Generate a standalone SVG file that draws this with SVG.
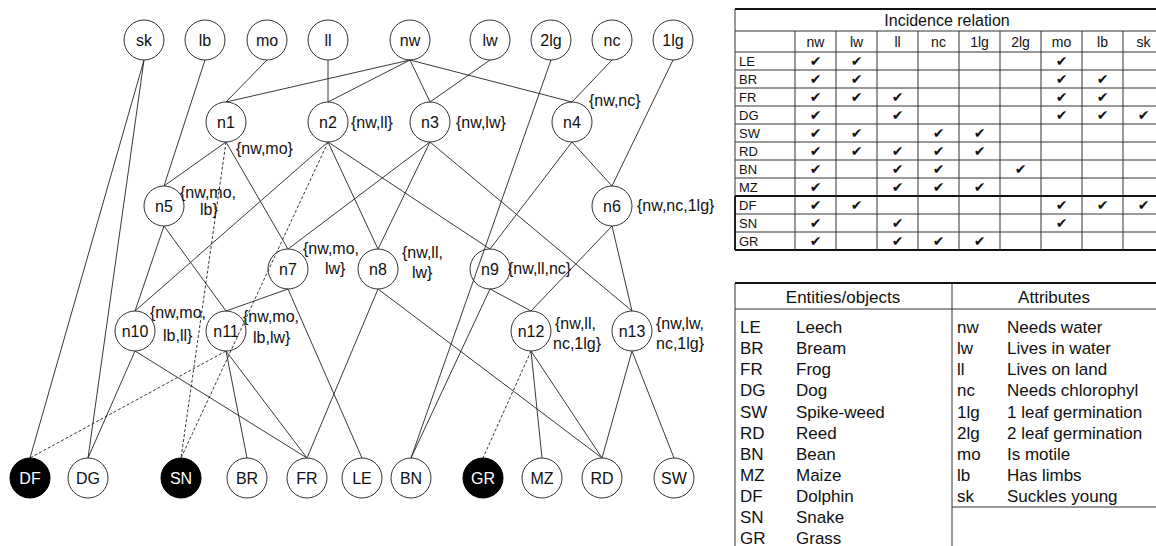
<svg xmlns="http://www.w3.org/2000/svg" width="1156" height="546" viewBox="0 0 1156 546">
  <style>
    text { font-family: "Liberation Sans", Arial, sans-serif; fill: #111; }
    .node circle { fill: none; stroke: #333; stroke-width: 1; }
    .node.obj circle.dark { fill: #000; stroke: #000; }
    .node text.nm { font-size: 16px; text-anchor: middle; }
    .node text.inv { fill: #fff; }
    .node text.lbl { font-size: 16px; }
    #edges line { stroke: #222; stroke-width: 0.9; }
    #edges line.dash { stroke-dasharray: 3 2; }
    .grid line { stroke: #333; stroke-width: 1; }
    .grid line.heavy { stroke: #111; stroke-width: 1.8; }
    .tt { font-size: 16px; text-anchor: middle; }
    .th { font-size: 14px; text-anchor: middle; }
    .rl { font-size: 13px; }
    .ck { font-family: "DejaVu Sans", sans-serif; font-size: 14px; text-anchor: middle; }
    .et { font-size: 17px; }
    .eh { font-size: 17px; text-anchor: middle; }
  </style>

  <!-- connectors: parent bottom to child top -->
  <g id="edges">
    <line x1="144" y1="60" x2="30" y2="458"/>
    <line x1="144" y1="60" x2="88" y2="458"/>
    <line x1="205" y1="60" x2="164" y2="186"/>
    <line x1="267" y1="60" x2="226" y2="102"/>
    <line x1="328" y1="60" x2="328" y2="102"/>
    <line x1="410" y1="60" x2="226" y2="102"/>
    <line x1="410" y1="60" x2="328" y2="102"/>
    <line x1="410" y1="60" x2="430" y2="102"/>
    <line x1="410" y1="60" x2="572" y2="102"/>
    <line x1="490" y1="60" x2="430" y2="102"/>
    <line x1="551" y1="60" x2="411" y2="458"/>
    <line x1="612" y1="60" x2="572" y2="102"/>
    <line x1="673" y1="60" x2="612" y2="186"/>
    <line x1="226" y1="142" x2="164" y2="186"/>
    <line x1="226" y1="142" x2="288" y2="249"/>
    <line class="dash" x1="226" y1="142" x2="181" y2="458"/>
    <line x1="328" y1="142" x2="135" y2="311"/>
    <line x1="328" y1="142" x2="378" y2="249"/>
    <line x1="328" y1="142" x2="490" y2="249"/>
    <line class="dash" x1="328" y1="142" x2="181" y2="458"/>
    <line x1="430" y1="142" x2="288" y2="249"/>
    <line x1="430" y1="142" x2="378" y2="249"/>
    <line x1="430" y1="142" x2="632" y2="311"/>
    <line x1="572" y1="142" x2="490" y2="249"/>
    <line x1="572" y1="142" x2="612" y2="186"/>
    <line x1="164" y1="226" x2="135" y2="311"/>
    <line x1="164" y1="226" x2="226" y2="311"/>
    <line x1="612" y1="226" x2="531" y2="311"/>
    <line x1="612" y1="226" x2="632" y2="311"/>
    <line x1="288" y1="289" x2="226" y2="311"/>
    <line x1="288" y1="289" x2="362" y2="458"/>
    <line x1="378" y1="289" x2="307" y2="458"/>
    <line x1="378" y1="289" x2="602" y2="458"/>
    <line x1="490" y1="289" x2="411" y2="458"/>
    <line x1="490" y1="289" x2="531" y2="311"/>
    <line x1="135" y1="351" x2="88" y2="458"/>
    <line x1="135" y1="351" x2="307" y2="458"/>
    <line class="dash" x1="226" y1="351" x2="30" y2="458"/>
    <line x1="226" y1="351" x2="247" y2="458"/>
    <line x1="226" y1="351" x2="307" y2="458"/>
    <line class="dash" x1="531" y1="351" x2="483" y2="458"/>
    <line x1="531" y1="351" x2="542" y2="458"/>
    <line x1="531" y1="351" x2="602" y2="458"/>
    <line x1="632" y1="351" x2="602" y2="458"/>
    <line x1="632" y1="351" x2="674" y2="458"/>
  </g>

  <!-- attribute nodes -->
  <g id="sk" class="node"><circle cx="144" cy="40" r="20"/><text class="nm" x="144" y="45.5">sk</text></g>
  <g id="lb" class="node"><circle cx="205" cy="40" r="20"/><text class="nm" x="205" y="45.5">lb</text></g>
  <g id="mo" class="node"><circle cx="267" cy="40" r="20"/><text class="nm" x="267" y="45.5">mo</text></g>
  <g id="ll" class="node"><circle cx="328" cy="40" r="20"/><text class="nm" x="328" y="45.5">ll</text></g>
  <g id="nw" class="node"><circle cx="410" cy="40" r="20"/><text class="nm" x="410" y="45.5">nw</text></g>
  <g id="lw" class="node"><circle cx="490" cy="40" r="20"/><text class="nm" x="490" y="45.5">lw</text></g>
  <g id="a2lg" class="node"><circle cx="551" cy="40" r="20"/><text class="nm" x="551" y="45.5">2lg</text></g>
  <g id="nc" class="node"><circle cx="612" cy="40" r="20"/><text class="nm" x="612" y="45.5">nc</text></g>
  <g id="a1lg" class="node"><circle cx="673" cy="40" r="20"/><text class="nm" x="673" y="45.5">1lg</text></g>

  <!-- concept nodes with intents -->
  <g id="n1" class="node"><circle cx="226" cy="122" r="20"/><text class="nm" x="226" y="127.5">n1</text><text class="lbl" x="236" y="154">{nw,mo}</text></g>
  <g id="n2" class="node"><circle cx="328" cy="122" r="20"/><text class="nm" x="328" y="127.5">n2</text><text class="lbl" x="351" y="128">{nw,ll}</text></g>
  <g id="n3" class="node"><circle cx="430" cy="122" r="20"/><text class="nm" x="430" y="127.5">n3</text><text class="lbl" x="456" y="128">{nw,lw}</text></g>
  <g id="n4" class="node"><circle cx="572" cy="122" r="20"/><text class="nm" x="572" y="127.5">n4</text><text class="lbl" x="589" y="106">{nw,nc}</text></g>
  <g id="n5" class="node"><circle cx="164" cy="206" r="20"/><text class="nm" x="164" y="211.5">n5</text><text class="lbl" x="180" y="198">{nw,mo,</text><text class="lbl" x="200" y="215">lb}</text></g>
  <g id="n6" class="node"><circle cx="612" cy="206" r="20"/><text class="nm" x="612" y="211.5">n6</text><text class="lbl" x="637" y="211">{nw,nc,1lg}</text></g>
  <g id="n7" class="node"><circle cx="288" cy="269" r="20"/><text class="nm" x="288" y="274.5">n7</text><text class="lbl" x="303" y="254">{nw,mo,</text><text class="lbl" x="325" y="274">lw}</text></g>
  <g id="n8" class="node"><circle cx="378" cy="269" r="20"/><text class="nm" x="378" y="274.5">n8</text><text class="lbl" x="402" y="258">{nw,ll,</text><text class="lbl" x="412" y="278">lw}</text></g>
  <g id="n9" class="node"><circle cx="490" cy="269" r="20"/><text class="nm" x="490" y="274.5">n9</text><text class="lbl" x="508" y="274">{nw,ll,nc}</text></g>
  <g id="n10" class="node"><circle cx="135" cy="331" r="20"/><text class="nm" x="135" y="336.5">n10</text><text class="lbl" x="150" y="318">{nw,mo,</text><text class="lbl" x="163" y="341">lb,ll}</text></g>
  <g id="n11" class="node"><circle cx="226" cy="331" r="20"/><text class="nm" x="226" y="336.5">n11</text><text class="lbl" x="243" y="322">{nw,mo,</text><text class="lbl" x="253" y="343">lb,lw}</text></g>
  <g id="n12" class="node"><circle cx="531" cy="331" r="20"/><text class="nm" x="531" y="336.5">n12</text><text class="lbl" x="555" y="329">{nw,ll,</text><text class="lbl" x="553" y="349">nc,1lg}</text></g>
  <g id="n13" class="node"><circle cx="632" cy="331" r="20"/><text class="nm" x="632" y="336.5">n13</text><text class="lbl" x="656" y="329">{nw,lw,</text><text class="lbl" x="656" y="349">nc,1lg}</text></g>

  <!-- object nodes -->
  <g id="DF" class="node obj"><circle class="dark" cx="30" cy="478" r="20"/><text class="nm inv" x="30" y="483.5">DF</text></g>
  <g id="DG" class="node obj"><circle cx="88" cy="478" r="20"/><text class="nm" x="88" y="483.5">DG</text></g>
  <g id="SN" class="node obj"><circle class="dark" cx="181" cy="478" r="20"/><text class="nm inv" x="181" y="483.5">SN</text></g>
  <g id="BR" class="node obj"><circle cx="247" cy="478" r="20"/><text class="nm" x="247" y="483.5">BR</text></g>
  <g id="FR" class="node obj"><circle cx="307" cy="478" r="20"/><text class="nm" x="307" y="483.5">FR</text></g>
  <g id="LE" class="node obj"><circle cx="362" cy="478" r="20"/><text class="nm" x="362" y="483.5">LE</text></g>
  <g id="BN" class="node obj"><circle cx="411" cy="478" r="20"/><text class="nm" x="411" y="483.5">BN</text></g>
  <g id="GR" class="node obj"><circle class="dark" cx="483" cy="478" r="20"/><text class="nm inv" x="483" y="483.5">GR</text></g>
  <g id="MZ" class="node obj"><circle cx="542" cy="478" r="20"/><text class="nm" x="542" y="483.5">MZ</text></g>
  <g id="RD" class="node obj"><circle cx="602" cy="478" r="20"/><text class="nm" x="602" y="483.5">RD</text></g>
  <g id="SW" class="node obj"><circle cx="674" cy="478" r="20"/><text class="nm" x="674" y="483.5">SW</text></g>

  <!-- incidence relation table -->
  <g id="incidence">
    <g class="grid">
      <line class="heavy" x1="735" y1="9" x2="1156" y2="9"/>
      <line x1="735" y1="31" x2="1156" y2="31"/>
      <line x1="735" y1="52" x2="1156" y2="52"/>
      <line x1="735" y1="70" x2="1156" y2="70"/>
      <line x1="735" y1="88" x2="1156" y2="88"/>
      <line x1="735" y1="106" x2="1156" y2="106"/>
      <line x1="735" y1="124" x2="1156" y2="124"/>
      <line x1="735" y1="142" x2="1156" y2="142"/>
      <line x1="735" y1="160" x2="1156" y2="160"/>
      <line x1="735" y1="178" x2="1156" y2="178"/>
      <line class="heavy" x1="735" y1="196" x2="1156" y2="196"/>
      <line x1="735" y1="214" x2="1156" y2="214"/>
      <line x1="735" y1="232" x2="1156" y2="232"/>
      <line class="heavy" x1="735" y1="250" x2="1156" y2="250"/>
      <line x1="735" y1="9" x2="735" y2="250"/>
      <line class="heavy" x1="735" y1="196" x2="735" y2="250"/>
      <line x1="795" y1="31" x2="795" y2="250"/>
      <line x1="836" y1="31" x2="836" y2="250"/>
      <line x1="877" y1="31" x2="877" y2="250"/>
      <line x1="918" y1="31" x2="918" y2="250"/>
      <line x1="959" y1="31" x2="959" y2="250"/>
      <line x1="1000" y1="31" x2="1000" y2="250"/>
      <line x1="1041" y1="31" x2="1041" y2="250"/>
      <line x1="1082" y1="31" x2="1082" y2="250"/>
      <line x1="1123" y1="31" x2="1123" y2="250"/>
    </g>
    <text class="tt" x="947" y="26">Incidence relation</text>
    <g class="th-row">
      <text class="th" x="815.5" y="47">nw</text>
      <text class="th" x="856.5" y="47">lw</text>
      <text class="th" x="897.5" y="47">ll</text>
      <text class="th" x="938.5" y="47">nc</text>
      <text class="th" x="979.5" y="47">1lg</text>
      <text class="th" x="1020.5" y="47">2lg</text>
      <text class="th" x="1061.5" y="47">mo</text>
      <text class="th" x="1102.5" y="47">lb</text>
      <text class="th" x="1143.5" y="47">sk</text>
    </g>
    <g class="rows">
      <text class="rl" x="739" y="65.5">LE</text>
      <text class="rl" x="739" y="83.5">BR</text>
      <text class="rl" x="739" y="101.5">FR</text>
      <text class="rl" x="739" y="119.5">DG</text>
      <text class="rl" x="739" y="137.5">SW</text>
      <text class="rl" x="739" y="155.5">RD</text>
      <text class="rl" x="739" y="173.5">BN</text>
      <text class="rl" x="739" y="191.5">MZ</text>
      <text class="rl" x="739" y="209.5">DF</text>
      <text class="rl" x="739" y="227.5">SN</text>
      <text class="rl" x="739" y="245.5">GR</text>
    </g>
    <g class="checks">
      <!-- LE: nw lw mo -->
      <text class="ck" x="815.5" y="66">✔</text><text class="ck" x="856.5" y="66">✔</text><text class="ck" x="1061.5" y="66">✔</text>
      <!-- BR: nw lw mo lb -->
      <text class="ck" x="815.5" y="84">✔</text><text class="ck" x="856.5" y="84">✔</text><text class="ck" x="1061.5" y="84">✔</text><text class="ck" x="1102.5" y="84">✔</text>
      <!-- FR: nw lw ll mo lb -->
      <text class="ck" x="815.5" y="102">✔</text><text class="ck" x="856.5" y="102">✔</text><text class="ck" x="897.5" y="102">✔</text><text class="ck" x="1061.5" y="102">✔</text><text class="ck" x="1102.5" y="102">✔</text>
      <!-- DG: nw ll mo lb sk -->
      <text class="ck" x="815.5" y="120">✔</text><text class="ck" x="897.5" y="120">✔</text><text class="ck" x="1061.5" y="120">✔</text><text class="ck" x="1102.5" y="120">✔</text><text class="ck" x="1143.5" y="120">✔</text>
      <!-- SW: nw lw nc 1lg -->
      <text class="ck" x="815.5" y="138">✔</text><text class="ck" x="856.5" y="138">✔</text><text class="ck" x="938.5" y="138">✔</text><text class="ck" x="979.5" y="138">✔</text>
      <!-- RD: nw lw ll nc 1lg -->
      <text class="ck" x="815.5" y="156">✔</text><text class="ck" x="856.5" y="156">✔</text><text class="ck" x="897.5" y="156">✔</text><text class="ck" x="938.5" y="156">✔</text><text class="ck" x="979.5" y="156">✔</text>
      <!-- BN: nw ll nc 2lg -->
      <text class="ck" x="815.5" y="174">✔</text><text class="ck" x="897.5" y="174">✔</text><text class="ck" x="938.5" y="174">✔</text><text class="ck" x="1020.5" y="174">✔</text>
      <!-- MZ: nw ll nc 1lg -->
      <text class="ck" x="815.5" y="192">✔</text><text class="ck" x="897.5" y="192">✔</text><text class="ck" x="938.5" y="192">✔</text><text class="ck" x="979.5" y="192">✔</text>
      <!-- DF: nw lw mo lb sk -->
      <text class="ck" x="815.5" y="210">✔</text><text class="ck" x="856.5" y="210">✔</text><text class="ck" x="1061.5" y="210">✔</text><text class="ck" x="1102.5" y="210">✔</text><text class="ck" x="1143.5" y="210">✔</text>
      <!-- SN: nw ll mo -->
      <text class="ck" x="815.5" y="228">✔</text><text class="ck" x="897.5" y="228">✔</text><text class="ck" x="1061.5" y="228">✔</text>
      <!-- GR: nw ll nc 1lg -->
      <text class="ck" x="815.5" y="246">✔</text><text class="ck" x="897.5" y="246">✔</text><text class="ck" x="938.5" y="246">✔</text><text class="ck" x="979.5" y="246">✔</text>
    </g>
  </g>

  <!-- legend of objects and attributes -->
  <g id="legend">
    <g class="grid">
      <line class="heavy" x1="735" y1="283" x2="1156" y2="283"/>
      <line x1="735" y1="309" x2="1156" y2="309"/>
      <line x1="735" y1="283" x2="735" y2="546"/>
      <line x1="952" y1="283" x2="952" y2="546"/>
      <line x1="952" y1="507" x2="1156" y2="507"/>
    </g>
    <text class="eh" x="843" y="303">Entities/objects</text>
    <text class="eh" x="1054" y="303">Attributes</text>
    <g class="entities">
      <text class="et" x="740" y="333">LE</text><text class="et" x="796" y="333">Leech</text>
      <text class="et" x="740" y="354">BR</text><text class="et" x="796" y="354">Bream</text>
      <text class="et" x="740" y="375">FR</text><text class="et" x="796" y="375">Frog</text>
      <text class="et" x="740" y="396">DG</text><text class="et" x="796" y="396">Dog</text>
      <text class="et" x="740" y="418">SW</text><text class="et" x="796" y="418">Spike-weed</text>
      <text class="et" x="740" y="439">RD</text><text class="et" x="796" y="439">Reed</text>
      <text class="et" x="740" y="460">BN</text><text class="et" x="796" y="460">Bean</text>
      <text class="et" x="740" y="481">MZ</text><text class="et" x="796" y="481">Maize</text>
      <text class="et" x="740" y="502">DF</text><text class="et" x="796" y="502">Dolphin</text>
      <text class="et" x="740" y="523">SN</text><text class="et" x="796" y="523">Snake</text>
      <text class="et" x="740" y="544">GR</text><text class="et" x="796" y="544">Grass</text>
    </g>
    <g class="attributes">
      <text class="et" x="957" y="333">nw</text><text class="et" x="1007" y="333">Needs water</text>
      <text class="et" x="957" y="354">lw</text><text class="et" x="1007" y="354">Lives in water</text>
      <text class="et" x="957" y="375">ll</text><text class="et" x="1007" y="375">Lives on land</text>
      <text class="et" x="957" y="396">nc</text><text class="et" x="1007" y="396">Needs chlorophyl</text>
      <text class="et" x="957" y="418">1lg</text><text class="et" x="1007" y="418">1 leaf germination</text>
      <text class="et" x="957" y="439">2lg</text><text class="et" x="1007" y="439">2 leaf germination</text>
      <text class="et" x="957" y="460">mo</text><text class="et" x="1007" y="460">Is motile</text>
      <text class="et" x="957" y="481">lb</text><text class="et" x="1007" y="481">Has limbs</text>
      <text class="et" x="957" y="502">sk</text><text class="et" x="1007" y="502">Suckles young</text>
    </g>
  </g>
</svg>
